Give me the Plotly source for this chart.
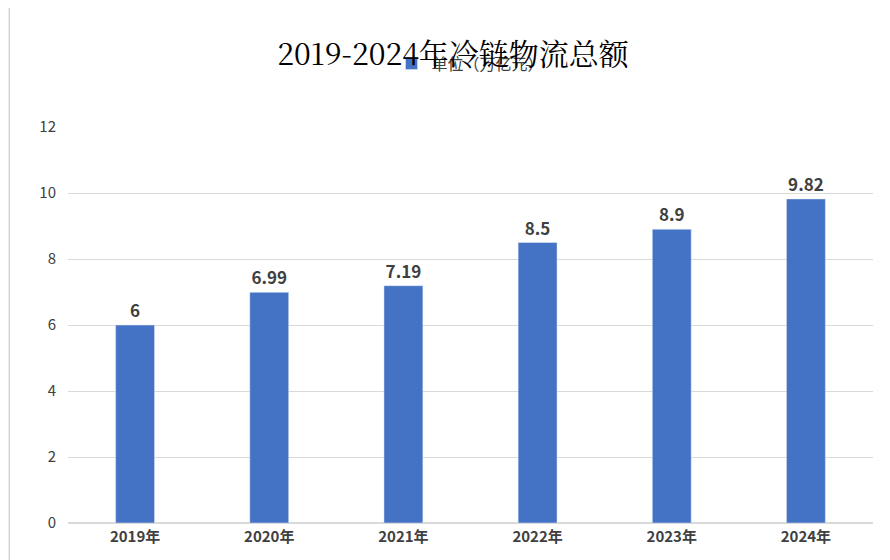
import plotly.graph_objects as go

categories = ["2019年", "2020年", "2021年", "2022年", "2023年", "2024年"]
values = [6, 6.99, 7.19, 8.5, 8.9, 9.82]
value_labels = ["<b>6</b>", "<b>6.99</b>", "<b>7.19</b>", "<b>8.5</b>", "<b>8.9</b>", "<b>9.82</b>"]
series_name = "单位（万亿元）"

fig = go.Figure(go.Bar(
    x=categories, y=values, name=series_name,
    marker_color="#4472C4", width=0.29,
    text=value_labels, textposition="outside",
    textfont=dict(size=17, color="#404040", family="Noto Sans CJK SC"),
    cliponaxis=False,
))
fig.update_layout(
    width=890, height=560,
    paper_bgcolor="white", plot_bgcolor="white",
    title=dict(text="2019-2024年冷链物流总额", x=0.5, y=0.935, xanchor="center",
               font=dict(size=30, color="black", family="Noto Serif CJK SC, serif")),
    showlegend=True,
    legend=dict(orientation="h", x=0.5, xanchor="center", y=1.16, yanchor="middle",
                font=dict(size=16, color="#404040", family="Noto Sans CJK SC")),
    margin=dict(l=60, r=25, t=119, b=45, autoexpand=False),
    font=dict(family="Noto Sans CJK SC", color="#404040"),
    yaxis=dict(range=[0, 12], dtick=2, gridcolor="#D9D9D9", zeroline=True,
               zerolinecolor="#D9D9D9", tickfont=dict(size=15), ticklen=8,
               ticks="outside", tickcolor="white"),
    xaxis=dict(tickfont=dict(size=15, color="#404040"), showline=True, linecolor="#D9D9D9",
               tickprefix="<b>", ticksuffix="</b>"),
    shapes=[dict(type="rect", xref="paper", yref="paper", x0=-0.073, x1=1.0286,
                 y0=-0.131, y1=1.327, line=dict(color="#BFBFBF", width=1))],
)
fig.write_html("out.html")
